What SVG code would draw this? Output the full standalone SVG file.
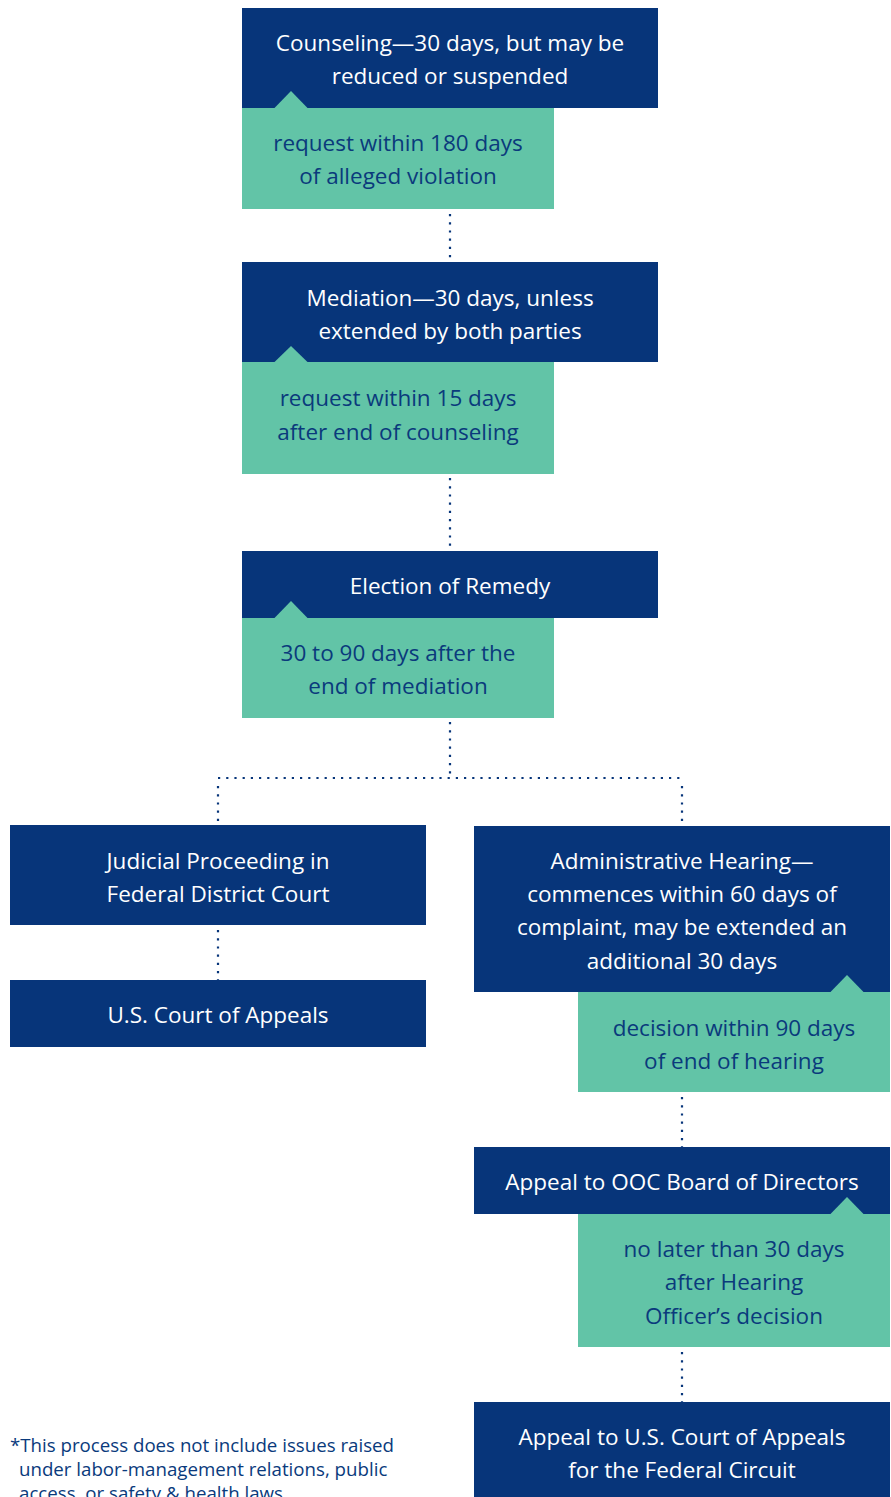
<svg xmlns="http://www.w3.org/2000/svg" width="891" height="1497" viewBox="0 0 891 1497">
<style>
.n{fill:#07357a}
.g{fill:#62c4a7}
.tw{font-family:"Open Sans","Liberation Sans",sans-serif;font-size:22.5px;fill:#ffffff;text-anchor:middle}
.tg{font-family:"Open Sans","Liberation Sans",sans-serif;font-size:22.5px;fill:#0a3a7c;text-anchor:middle}
.foot{font-family:"Open Sans","Liberation Sans",sans-serif;font-size:18.7px;fill:#0a3a7c}
.c{stroke:#07357a;stroke-width:2.2;stroke-dasharray:2.2 6;fill:none}
</style>
<rect width="891" height="1497" fill="#ffffff"/>
<g id="connectors">
<line class="c" x1="450" y1="214" x2="450" y2="262"/>
<line class="c" x1="450" y1="478" x2="450" y2="551"/>
<line class="c" x1="450" y1="722" x2="450" y2="778"/>
<line class="c" x1="218" y1="778" x2="682" y2="778"/>
<line class="c" x1="218" y1="786" x2="218" y2="825"/>
<line class="c" x1="682" y1="786" x2="682" y2="826"/>
<line class="c" x1="218" y1="930" x2="218" y2="980"/>
<line class="c" x1="682" y1="1097" x2="682" y2="1147"/>
<line class="c" x1="682" y1="1352" x2="682" y2="1402"/>
</g>
<g id="counseling">
<rect class="n" x="242" y="8" width="416" height="100"/>
<text class="tw" x="450" y="51">Counseling—30 days, but may be</text>
<text class="tw" x="450" y="84">reduced or suspended</text>
<rect class="g" x="242" y="108" width="312" height="101"/>
<polygon class="g" points="274,108.5 291,91 308,108.5"/>
<text class="tg" x="398" y="151">request within 180 days</text>
<text class="tg" x="398" y="184">of alleged violation</text>
</g>
<g id="mediation">
<rect class="n" x="242" y="262" width="416" height="100"/>
<text class="tw" x="450" y="306">Mediation—30 days, unless</text>
<text class="tw" x="450" y="339">extended by both parties</text>
<rect class="g" x="242" y="362" width="312" height="112"/>
<polygon class="g" points="274,362.5 291,346 308,362.5"/>
<text class="tg" x="398" y="406">request within 15 days</text>
<text class="tg" x="398" y="440">after end of counseling</text>
</g>
<g id="election">
<rect class="n" x="242" y="551" width="416" height="67"/>
<text class="tw" x="450" y="594">Election of Remedy</text>
<rect class="g" x="242" y="618" width="312" height="100"/>
<polygon class="g" points="274,618.5 291,601 308,618.5"/>
<text class="tg" x="398" y="661">30 to 90 days after the</text>
<text class="tg" x="398" y="694">end of mediation</text>
</g>
<g id="judicial">
<rect class="n" x="10" y="825" width="416" height="100"/>
<text class="tw" x="218" y="869">Judicial Proceeding in</text>
<text class="tw" x="218" y="902">Federal District Court</text>
</g>
<g id="court-of-appeals">
<rect class="n" x="10" y="980" width="416" height="67"/>
<text class="tw" x="218" y="1023">U.S. Court of Appeals</text>
</g>
<g id="admin-hearing">
<rect class="n" x="474" y="826" width="416" height="166"/>
<text class="tw" x="682" y="869">Administrative Hearing—</text>
<text class="tw" x="682" y="902">commences within 60 days of</text>
<text class="tw" x="682" y="935">complaint, may be extended an</text>
<text class="tw" x="682" y="969">additional 30 days</text>
<rect class="g" x="578" y="992" width="312" height="100"/>
<polygon class="g" points="830,992.5 847,975 864,992.5"/>
<text class="tg" x="734" y="1036">decision within 90 days</text>
<text class="tg" x="734" y="1069">of end of hearing</text>
</g>
<g id="ooc-board">
<rect class="n" x="474" y="1147" width="416" height="67"/>
<text class="tw" x="682" y="1190">Appeal to OOC Board of Directors</text>
<rect class="g" x="578" y="1214" width="312" height="133"/>
<polygon class="g" points="830,1214.5 847,1197 864,1214.5"/>
<text class="tg" x="734" y="1257">no later than 30 days</text>
<text class="tg" x="734" y="1290">after Hearing</text>
<text class="tg" x="734" y="1324">Officer’s decision</text>
</g>
<g id="federal-circuit">
<rect class="n" x="474" y="1402" width="416" height="100"/>
<text class="tw" x="682" y="1445">Appeal to U.S. Court of Appeals</text>
<text class="tw" x="682" y="1478">for the Federal Circuit</text>
</g>
<g id="footnote">
<text class="foot" x="10" y="1452">*This process does not include issues raised</text>
<text class="foot" x="19" y="1476">under labor-management relations, public</text>
<text class="foot" x="19" y="1500">access, or safety &amp; health laws</text>
</g>
</svg>
